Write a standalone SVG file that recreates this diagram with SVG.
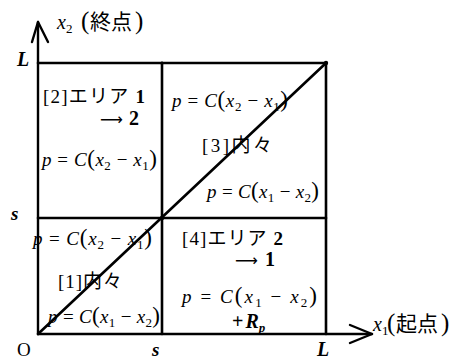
<svg xmlns="http://www.w3.org/2000/svg" width="465" height="360" viewBox="0 0 465 360">
<style>
.ln{stroke:#000;stroke-width:2.6;fill:none;stroke-linecap:round;stroke-linejoin:round}
.ax{stroke:#000;stroke-width:2.4;fill:none;stroke-linecap:round;stroke-linejoin:round}
text{font-family:"Liberation Serif","Noto Sans CJK JP",serif;font-size:19px;fill:#000}
.i{font-style:italic}
.b{font-weight:bold}
.sub{font-size:13px}
.par{font-size:23px}
.arr{font-family:"DejaVu Sans",sans-serif;font-size:16px}
.big{font-size:20px}
.cjk{font-size:21px}
.bpar{font-size:25px}
</style>
<rect width="465" height="360" fill="#fff"/>
<g id="connectors">
<polyline class="ax" points="38,334 38,22"/>
<polyline class="ax" points="32,42 38,22 48,42"/>
<polyline class="ax" points="38,334 372,334"/>
<polyline class="ax" points="350,325 372,334 350,343"/>
<line class="ln" x1="38" y1="63" x2="326" y2="63"/>
<line class="ln" x1="326" y1="63" x2="326" y2="334"/>
<line class="ln" x1="162" y1="63" x2="162" y2="334"/>
<line class="ln" x1="38" y1="218" x2="326" y2="218"/>
<line class="ln" x1="38" y1="334" x2="326" y2="63"/>
<circle cx="326" cy="63" r="2.2"/>
<circle cx="162" cy="218" r="2.2"/>
<circle cx="162" cy="63" r="1.6"/>
</g>
<g id="axis-labels">
<text y="29" class="big"><tspan x="57" class="i">x</tspan><tspan class="sub" dy="4">2</tspan><tspan x="81" dy="-4" class="bpar">(</tspan><tspan x="90" class="cjk">終点</tspan><tspan x="135" class="bpar">)</tspan></text>
<text y="331" class="big"><tspan x="373" class="i">x</tspan><tspan class="sub" dy="4">1</tspan><tspan x="387" dy="-4" class="bpar">(</tspan><tspan x="396" class="cjk">起点</tspan><tspan x="441" class="bpar">)</tspan></text>
<text x="17" y="66" class="i b big">L</text>
<text x="11" y="220" class="i b">s</text>
<text x="17" y="356">O</text>
<text x="152" y="356" class="i b">s</text>
<text x="317" y="356" class="i b big">L</text>
</g>
<g id="area2">
<text x="43" y="103" textLength="102">[2]エリア <tspan class="b">1</tspan></text>
<text y="125"><tspan x="100" class="arr">⟶</tspan><tspan x="129" class="b big">2</tspan></text>
<text x="42" y="166" textLength="115"><tspan class="i">p</tspan> = <tspan class="i">C</tspan><tspan class="par">(</tspan><tspan class="i">x</tspan><tspan class="sub" dy="4">2</tspan><tspan dy="-4"> − </tspan><tspan class="i">x</tspan><tspan class="sub" dy="4">1</tspan><tspan class="par" dy="-4">)</tspan></text>
</g>
<g id="area3">
<text x="172" y="107" textLength="116"><tspan class="i">p</tspan> = <tspan class="i">C</tspan><tspan class="par">(</tspan><tspan class="i">x</tspan><tspan class="sub" dy="4">2</tspan><tspan dy="-4"> − </tspan><tspan class="i">x</tspan><tspan class="sub" dy="4">1</tspan><tspan class="par" dy="-4">)</tspan></text>
<text x="202" y="152" textLength="70">[3]内々</text>
<text x="207" y="198" textLength="112"><tspan class="i">p</tspan> = <tspan class="i">C</tspan><tspan class="par">(</tspan><tspan class="i">x</tspan><tspan class="sub" dy="4">1</tspan><tspan dy="-4"> − </tspan><tspan class="i">x</tspan><tspan class="sub" dy="4">2</tspan><tspan class="par" dy="-4">)</tspan></text>
</g>
<g id="area1">
<text x="33" y="245" textLength="119"><tspan class="i">p</tspan> = <tspan class="i">C</tspan><tspan class="par">(</tspan><tspan class="i">x</tspan><tspan class="sub" dy="4">2</tspan><tspan dy="-4"> − </tspan><tspan class="i">x</tspan><tspan class="sub" dy="4">1</tspan><tspan class="par" dy="-4">)</tspan></text>
<text x="58" y="288" textLength="64">[1]内々</text>
<text x="48" y="323" textLength="112"><tspan class="i">p</tspan> = <tspan class="i">C</tspan><tspan class="par">(</tspan><tspan class="i">x</tspan><tspan class="sub" dy="4">1</tspan><tspan dy="-4"> − </tspan><tspan class="i">x</tspan><tspan class="sub" dy="4">2</tspan><tspan class="par" dy="-4">)</tspan></text>
</g>
<g id="area4">
<text x="182" y="245" textLength="101">[4]エリア <tspan class="b">2</tspan></text>
<text y="266"><tspan x="235" class="arr">⟶</tspan><tspan x="265" class="b big">1</tspan></text>
<text x="182" y="303" textLength="135"><tspan class="i">p</tspan> = <tspan class="i">C</tspan><tspan class="par">(</tspan><tspan class="i">x</tspan><tspan class="sub" dy="4">1</tspan><tspan dy="-4"> − </tspan><tspan class="i">x</tspan><tspan class="sub" dy="4">2</tspan><tspan class="par" dy="-4">)</tspan></text>
<text x="232" y="328" class="b big">+<tspan class="i" dx="2">R</tspan><tspan class="sub i" dy="4">p</tspan></text>
</g>
</svg>
